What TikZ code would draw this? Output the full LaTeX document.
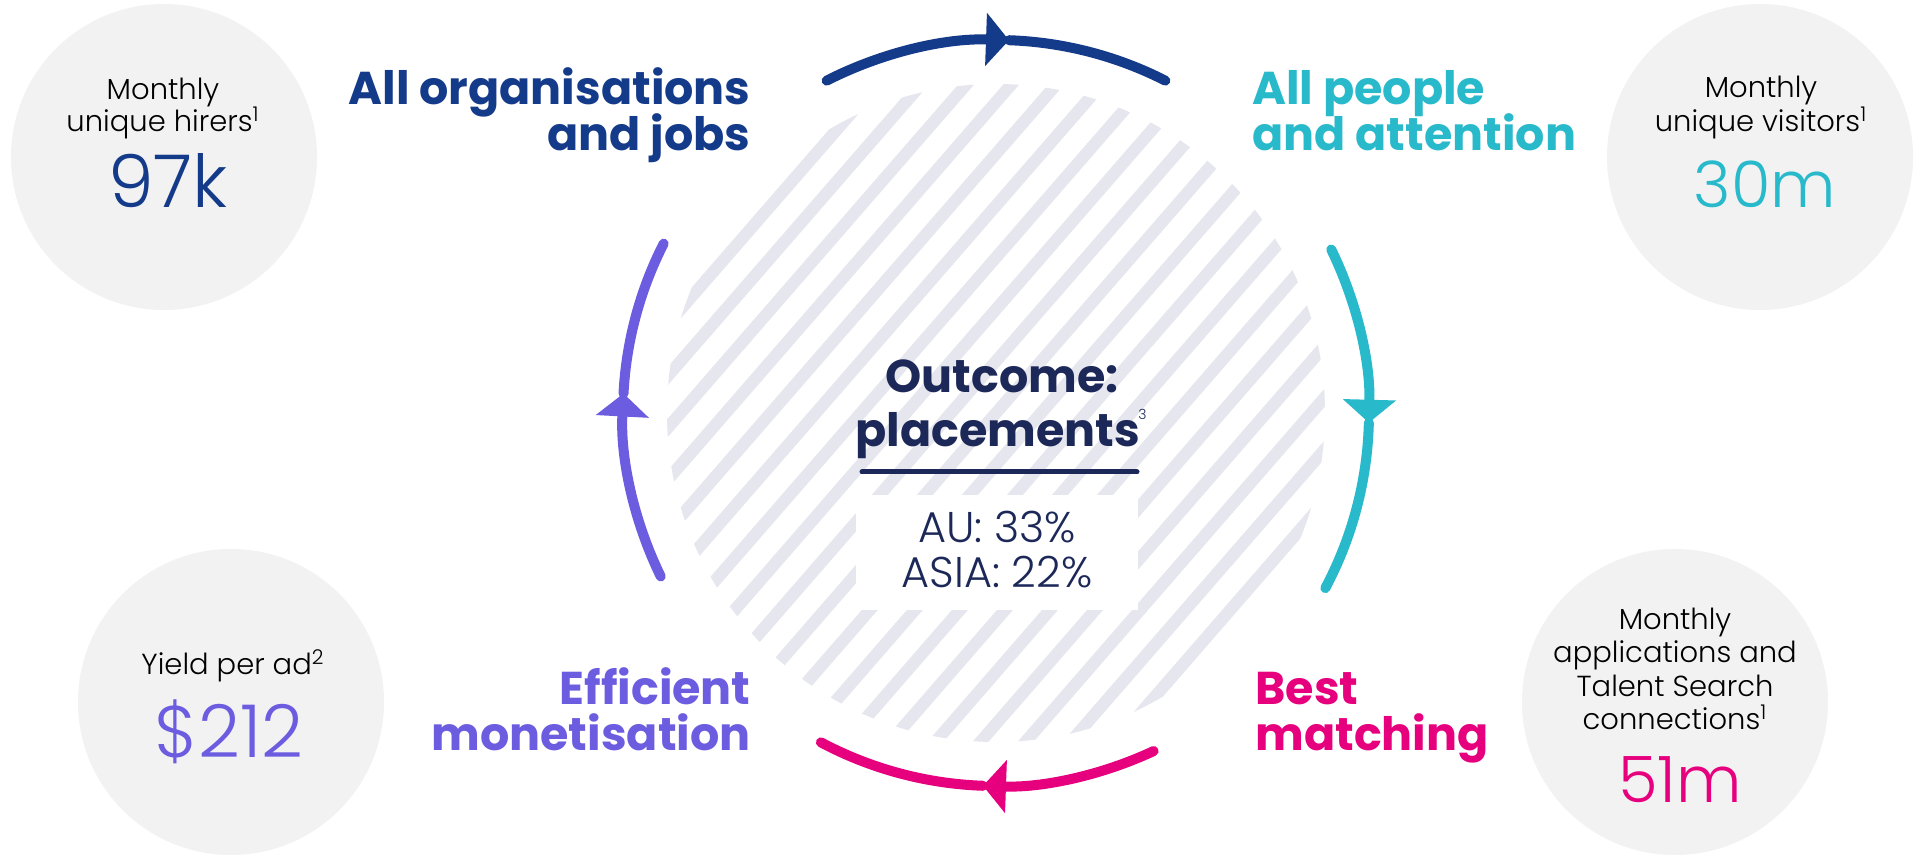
\documentclass[tikz,border=0pt]{standalone}
\usepackage{fontspec}
\setmainfont{Poppins}
\newfontfamily\lightfont{Poppins Light}
\usetikzlibrary{arrows.meta}

\definecolor{cnavy}{RGB}{20,58,138}
\definecolor{cdeep}{RGB}{28,40,88}
\definecolor{cteal}{RGB}{40,185,202}
\definecolor{cpink}{RGB}{230,0,126}
\definecolor{cviolet}{RGB}{108,92,224}
\definecolor{cdisc}{RGB}{242,242,242}
\definecolor{chatch}{RGB}{229,230,238}

\newcommand\titlefont{\fontsize{23}{28}\selectfont\bfseries}
\newcommand\bodyfont{\lightfont\fontsize{14.5}{17}\selectfont}
\newcommand\bignum{\lightfont\fontsize{36.5}{40}\selectfont}
\newcommand\midnum{\lightfont\fontsize{32}{36}\selectfont}
\newcommand\sharefont{\lightfont\fontsize{21.5}{24}\selectfont}

\tikzset{
  statdisc/.style={circle, fill=cdisc, minimum size=153pt, inner sep=0pt},
  heading/.style={inner sep=0pt, font=\titlefont},
  body/.style={inner sep=0pt, anchor=base, font=\bodyfont},
  flow/.style={line width=5pt, line cap=round},
  headtip/.style={-{Triangle[width=26pt,length=11.5pt]}},
}

\begin{document}
\begin{tikzpicture}[x=0.5pt, y=0.5pt]
  \useasboundingbox (0,0) rectangle (1924,857);
  \fill[white] (0,0) rectangle (1924,857);

  \coordinate (hub) at (996,444);

  % hatched disc in the middle
  \begin{scope}
    \clip (hub) circle[radius=329];
    \begin{scope}[shift={(hub)}, rotate=49]
      \foreach \k in {-11,...,11}
        \draw[chatch, line width=6pt] (-400,\k*34) -- (400,\k*34);
    \end{scope}
  \end{scope}

  % statistic discs
  \node[statdisc] (hirers)   at (164,700) {};
  \node[statdisc] (visitors) at (1760,700) {};
  \node[statdisc] (yield)    at (231,155) {};
  \node[statdisc] (apps)     at (1675,155) {};

  % cycle arcs, clockwise, with heads just past each quarter mark
  \draw[flow, cnavy, headtip] ([shift={(117:373)}]hub) arc[start angle=117, end angle=88, radius=373];
  \draw[flow, cnavy] ([shift={(88:373)}]hub) arc[start angle=88, end angle=63, radius=373];

  \draw[flow, cteal, headtip] ([shift={(26:373)}]hub) arc[start angle=26, end angle=-1.5, radius=373];
  \draw[flow, cteal] ([shift={(-1.5:373)}]hub) arc[start angle=-1.5, end angle=-28, radius=373];

  \draw[flow, cpink, headtip] ([shift={(295:373)}]hub) arc[start angle=295, end angle=268, radius=373];
  \draw[flow, cpink] ([shift={(268:373)}]hub) arc[start angle=268, end angle=242, radius=373];

  \draw[flow, cviolet, headtip] ([shift={(206:373)}]hub) arc[start angle=206, end angle=177, radius=373];
  \draw[flow, cviolet] ([shift={(177:373)}]hub) arc[start angle=177, end angle=153, radius=373];

  % stage headings
  \node[heading, cnavy, anchor=base east] (orgA) at (751,752) {All organisations};
  \node[heading, cnavy, anchor=base east] (orgB) at (751,706) {and jobs};
  \node[heading, cteal, anchor=base west] (pplA) at (1252,752) {All people};
  \node[heading, cteal, anchor=base west] (pplB) at (1252,706) {and attention};
  \node[heading, cpink, anchor=base west] (matA) at (1255,152) {Best};
  \node[heading, cpink, anchor=base west] (matB) at (1255,106) {matching};
  \node[heading, cviolet, anchor=base east] (monA) at (751,152) {Efficient};
  \node[heading, cviolet, anchor=base east] (monB) at (751,106) {monetisation};

  % outcome in the centre
  \node[heading, cdeep, anchor=base] (outA) at (1002,464) {Outcome:};
  \node[heading, cdeep, anchor=base] (outB) at (998,410) {placements};
  \node[inner sep=0pt, anchor=base west, font=\lightfont\fontsize{7}{8}\selectfont, cdeep] (outN) at (1138,437) {3};
  \draw[cdeep, line width=2.5pt, line cap=round] (862,385) coordinate (ulA) -- (1137,385) coordinate (ulB);
  \fill[white] (856,247) rectangle (1138,362);
  \node[inner sep=0pt, anchor=base, font=\sharefont, cdeep] (au) at (997,314) {AU: 33\%};
  \node[inner sep=0pt, anchor=base, font=\sharefont, cdeep] (asia) at (997,269) {ASIA: 22\%};

  % disc texts
  \node[body] (hA) at (163,757) {Monthly};
  \node[body] (hB) at (163,725) {unique hirers\textsuperscript{1}};
  \node[inner sep=0pt, anchor=base, font=\bignum, cnavy] (hN) at (168,649) {97k};

  \node[body] (vA) at (1761,759) {Monthly};
  \node[body] (vB) at (1761,725) {unique visitors\textsuperscript{1}};
  \node[inner sep=0pt, anchor=base, font=\midnum, cteal] (vN) at (1765,649) {30m};

  \node[body] (aA) at (1675,227) {Monthly};
  \node[body] (aB) at (1675,194) {applications and};
  \node[body] (aC) at (1675,160) {Talent Search};
  \node[body] (aD) at (1675,127) {connections\textsuperscript{1}};
  \node[inner sep=0pt, anchor=base, font=\midnum, cpink] (aN) at (1680,54) {51m};

  \node[body] (yA) at (233,182) {Yield per ad\textsuperscript{2}};
  \node[inner sep=0pt, anchor=base, font=\bignum, cviolet] (yN) at (229,99) {\$212};
\end{tikzpicture}
\end{document}
